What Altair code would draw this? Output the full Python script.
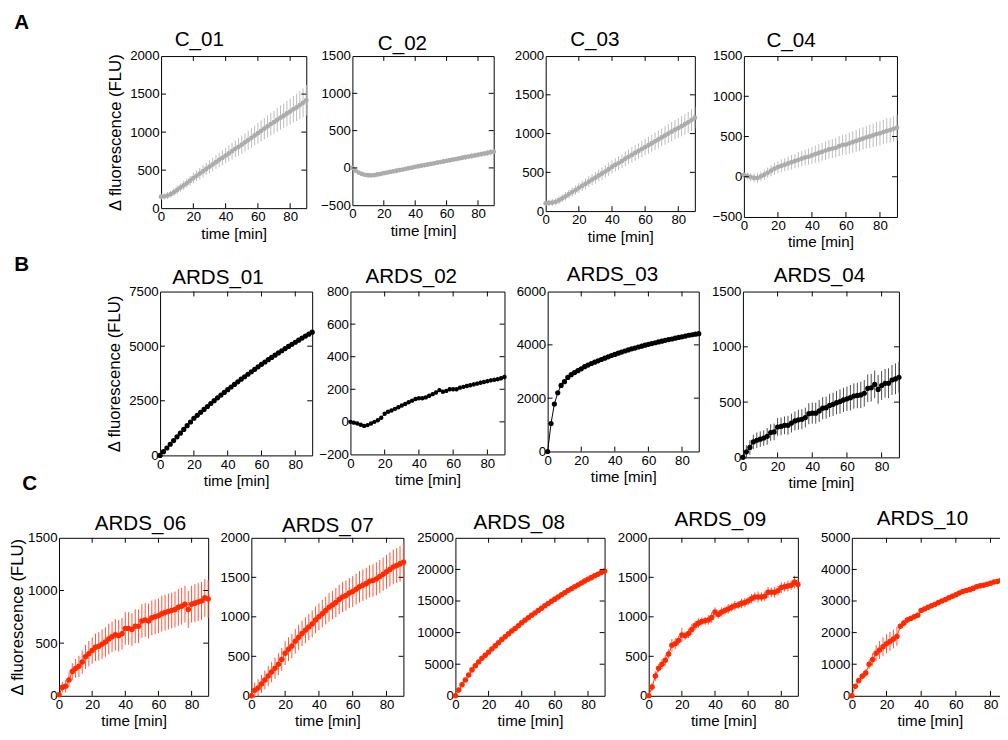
import altair as alt
import pandas as pd

TIME = [0, 2, 4, 6, 8, 10, 12, 14, 16, 18, 20, 22, 24, 26, 28, 30, 32, 34, 36, 38, 40,
        42, 44, 46, 48, 50, 52, 54, 56, 58, 60, 62, 64, 66, 68, 70, 72, 74, 76, 78, 80,
        82, 84, 86, 88, 90]
X_TICKS = [0, 20, 40, 60, 80]
X_TITLE = "time [min]"
Y_TITLE = "Δ fluorescence (FLU)"

C_01 = [150, 155, 165, 185, 210, 240, 270, 300, 330, 360, 395, 425, 455, 485, 515, 545,
        575, 605, 635, 660, 690, 720, 750, 780, 805, 835, 865, 895, 925, 955, 985, 1015,
        1045, 1075, 1105, 1130, 1160, 1190, 1215, 1245, 1270, 1300, 1325, 1355, 1385, 1420]
C_01_ERR = [40, 40, 45, 45, 50, 55, 55, 60, 60, 65, 70, 70, 75, 80, 80, 85, 90, 90, 95, 100,
            100, 105, 110, 110, 115, 120, 120, 125, 130, 130, 135, 140, 140, 145, 150, 150,
            155, 160, 160, 165, 170, 175, 180, 185, 190, 200]
C_02 = [0, -35, -62, -80, -92, -98, -100, -96, -88, -80, -70, -62, -54, -46, -38, -30, -22,
        -12, -4, 5, 14, 22, 30, 38, 46, 54, 62, 70, 78, 86, 95, 103, 111, 119, 127, 136, 144,
        152, 160, 168, 176, 184, 192, 200, 210, 218]
C_02_ERR = [10, 15, 15, 20, 20, 20, 20, 20, 20, 20, 20, 25, 20, 25, 25, 20, 25, 25, 25, 25,
            25, 25, 25, 30, 25, 25, 30, 30, 25, 30, 30, 30, 30, 30, 30, 30, 35, 30, 35, 35,
            35, 35, 35, 35, 40, 40]
C_03 = [100, 105, 110, 120, 140, 165, 190, 220, 245, 270, 300, 325, 350, 380, 405, 430, 460,
        485, 510, 540, 570, 595, 620, 645, 675, 700, 725, 750, 775, 800, 825, 850, 875, 900,
        925, 950, 975, 1000, 1025, 1050, 1070, 1095, 1120, 1145, 1175, 1205]
C_03_ERR = [40, 40, 45, 45, 50, 50, 55, 55, 60, 60, 65, 65, 70, 70, 70, 75, 75, 80, 80, 85,
            85, 85, 90, 90, 95, 95, 100, 100, 100, 105, 105, 110, 110, 115, 115, 115, 120,
            120, 125, 125, 130, 130, 135, 135, 140, 140]
C_04 = [20, 10, -5, -15, -15, 5, 25, 50, 75, 100, 120, 135, 150, 165, 180, 195, 210, 225, 240,
        250, 265, 280, 295, 310, 325, 340, 350, 360, 380, 395, 400, 415, 430, 445, 460, 475,
        490, 500, 515, 530, 540, 555, 570, 580, 595, 610]
C_04_ERR = [40, 45, 50, 55, 60, 60, 65, 65, 70, 75, 75, 80, 80, 85, 90, 90, 95, 95, 100, 100,
            105, 105, 110, 110, 115, 115, 120, 120, 125, 125, 130, 130, 135, 135, 140, 140,
            140, 145, 145, 150, 150, 150, 155, 155, 160, 160]

ARDS_01 = [0, 170, 340, 510, 680, 850, 1020, 1190, 1360, 1530, 1700, 1835, 1970, 2105, 2240,
           2375, 2505, 2635, 2760, 2885, 3010, 3130, 3250, 3370, 3490, 3600, 3715, 3830, 3940,
           4055, 4170, 4275, 4380, 4485, 4590, 4690, 4790, 4890, 4990, 5085, 5180, 5275, 5370,
           5460, 5550, 5640]
ARDS_01_ERR = [0, 10, 15, 15, 20, 20, 20, 25, 25, 25, 30, 30, 30, 30, 35, 35, 35, 35, 40, 40,
               40, 40, 40, 45, 45, 45, 45, 50, 50, 50, 50, 50, 55, 55, 55, 55, 60, 60, 60, 60,
               60, 65, 65, 65, 65, 70]
ARDS_02 = [0, -5, -10, -18, -25, -20, -10, 0, 10, 25, 50, 62, 70, 80, 90, 100, 110, 120, 130,
           140, 145, 145, 150, 160, 170, 180, 195, 185, 190, 200, 200, 200, 210, 215, 220, 225,
           230, 235, 240, 245, 250, 255, 258, 262, 268, 275]
ARDS_02_ERR = [0, 5, 5, 6, 6, 6, 7, 7, 7, 8, 8, 8, 8, 9, 9, 9, 9, 10, 10, 10, 10, 10, 10, 11,
               11, 11, 11, 11, 12, 12, 12, 12, 12, 12, 13, 13, 13, 13, 13, 13, 14, 14, 14, 14,
               14, 15]
ARDS_03 = [0, 1050, 1780, 2200, 2480, 2620, 2780, 2880, 2960, 3030, 3100, 3180, 3240, 3300,
           3350, 3400, 3450, 3500, 3550, 3600, 3640, 3690, 3730, 3770, 3810, 3850, 3880, 3920,
           3950, 3990, 4020, 4050, 4080, 4110, 4140, 4170, 4200, 4220, 4250, 4280, 4300, 4330,
           4360, 4380, 4400, 4420]
ARDS_03_ERR = [0, 40, 50, 50, 50, 50, 50, 50, 50, 50, 50, 50, 50, 50, 50, 50, 50, 50, 50, 50,
               50, 50, 50, 50, 50, 50, 50, 50, 50, 50, 50, 50, 50, 50, 50, 50, 50, 50, 50, 50,
               50, 50, 50, 50, 50, 50]
ARDS_04 = [0, 50, 90, 140, 155, 165, 175, 190, 225, 230, 275, 280, 290, 290, 310, 330, 340,
           345, 360, 395, 400, 400, 420, 445, 450, 470, 480, 495, 505, 520, 530, 540, 555, 560,
           565, 580, 625, 630, 660, 615, 650, 670, 670, 700, 710, 725]
ARDS_04_ERR = [20, 60, 65, 65, 70, 70, 70, 75, 75, 75, 80, 80, 80, 85, 85, 85, 90, 90, 90, 95,
               95, 95, 100, 100, 100, 105, 105, 105, 110, 110, 110, 115, 115, 115, 120, 120,
               125, 125, 125, 130, 130, 130, 135, 135, 140, 140]

ARDS_06 = [10, 80, 90, 150, 230, 260, 280, 320, 370, 400, 430, 460, 470, 490, 510, 540, 560,
           580, 570, 590, 640, 640, 630, 660, 660, 710, 720, 710, 740, 750, 760, 780, 790, 800,
           810, 820, 840, 850, 870, 820, 870, 880, 890, 900, 930, 920]
ARDS_06_ERR = [10, 50, 60, 70, 80, 90, 100, 110, 115, 120, 125, 130, 135, 140, 140, 145, 145,
               150, 150, 150, 155, 155, 155, 160, 160, 160, 160, 165, 165, 165, 165, 170, 170,
               170, 170, 170, 175, 175, 175, 175, 175, 180, 180, 180, 180, 180]
ARDS_07 = [0, 70, 100, 150, 200, 250, 300, 350, 400, 460, 540, 590, 630, 690, 740, 790, 830,
           870, 910, 960, 1000, 1040, 1080, 1120, 1150, 1180, 1220, 1250, 1270, 1300, 1320,
           1350, 1380, 1400, 1420, 1450, 1460, 1480, 1510, 1540, 1570, 1600, 1630, 1650, 1670,
           1690]
ARDS_07_ERR = [30, 100, 110, 115, 120, 125, 130, 135, 140, 145, 150, 150, 155, 155, 160, 160,
               165, 165, 170, 170, 170, 175, 175, 180, 180, 185, 185, 190, 190, 190, 195, 195,
               200, 200, 200, 205, 205, 210, 210, 210, 215, 215, 220, 220, 225, 230]
ARDS_08 = [0, 900, 1750, 2500, 3300, 4100, 4750, 5350, 5950, 6400, 6900, 7400, 7900, 8400,
           8900, 9350, 9800, 10250, 10650, 11100, 11550, 11950, 12350, 12750, 13100, 13500,
           13850, 14250, 14600, 14950, 15300, 15650, 16000, 16300, 16650, 16950, 17250, 17550,
           17850, 18150, 18450, 18700, 19000, 19250, 19500, 19750]
ARDS_08_ERR = [0, 100, 120, 140, 150, 160, 170, 180, 190, 200, 200, 210, 210, 220, 220, 230,
               230, 240, 240, 250, 250, 250, 260, 260, 260, 270, 270, 270, 280, 280, 280, 290,
               290, 290, 300, 300, 300, 300, 310, 310, 310, 310, 320, 320, 320, 320]
ARDS_09 = [0, 110, 250, 350, 400, 450, 530, 640, 660, 700, 770, 760, 790, 840, 890, 920, 940,
           950, 960, 990, 1060, 1030, 1060, 1080, 1100, 1120, 1140, 1150, 1170, 1180, 1200,
           1230, 1250, 1250, 1250, 1260, 1310, 1310, 1310, 1330, 1370, 1380, 1390, 1400, 1440,
           1410]
ARDS_09_ERR = [10, 50, 60, 50, 60, 70, 60, 80, 70, 60, 90, 50, 60, 70, 60, 60, 50, 50, 60, 70,
               60, 50, 60, 50, 60, 50, 60, 50, 60, 60, 50, 60, 60, 70, 60, 60, 70, 60, 70, 60,
               70, 60, 70, 60, 80, 60]
ARDS_10 = [0, 300, 480, 620, 720, 1000, 1150, 1350, 1450, 1550, 1650, 1720, 1800, 1880, 2200,
           2300, 2400, 2450, 2500, 2550, 2700, 2750, 2800, 2850, 2900, 2950, 3000, 3050, 3100,
           3150, 3200, 3250, 3300, 3330, 3360, 3400, 3450, 3480, 3500, 3530, 3560, 3600, 3620,
           3650, 3680, 3700]
ARDS_10_ERR = [10, 60, 80, 100, 120, 150, 200, 250, 280, 300, 300, 300, 300, 300, 80, 100,
               100, 80, 80, 80, 60, 60, 60, 60, 60, 60, 60, 60, 60, 60, 60, 60, 60, 60, 60, 60,
               60, 60, 60, 60, 60, 60, 60, 60, 60, 60]

FONT = "Liberation Sans"
GRAY, GRAY_E = "#acacac", "#bcbcbc"
BLACK, BLACK_E = "#000000", "#4a4a4a"
RED, RED_E = "#ff2a00", "#ff5236"

AX_STYLE = dict(labelFont=FONT, labelFontSize=13.5, labelColor="black", labelPadding=2,
                titleFont=FONT, titleFontWeight="normal", titleColor="black",
                labelOverlap=False, domain=False, ticks=False, grid=False)


def panel(name, vals, errs, ydom, yticks, color, ecolor, w, h, left, tx, ty, msize,
          ytitle=False, ytitle_pad=5, vspace=None, lw=1):
    df = pd.DataFrame({
        "t": TIME, "v": vals,
        "lo": [v - e for v, e in zip(vals, errs)],
        "hi": [v + e for v, e in zip(vals, errs)],
    })
    xs = alt.Scale(domain=[0, 90], nice=False, zero=False)
    ys = alt.Scale(domain=ydom, nice=False, zero=False)
    xax = alt.Axis(values=X_TICKS, title=X_TITLE, labelFlush=False, titleFontSize=15.5,
                   titlePadding=3, **AX_STYLE)
    if ytitle:
        yax = alt.Axis(values=yticks, title=Y_TITLE, titlePadding=ytitle_pad,
                       titleFontSize=17, format="d", **AX_STYLE)
    else:
        yax = alt.Axis(values=yticks, title="", format="d", **AX_STYLE)

    def X(f):
        return alt.X(f, type="quantitative", scale=xs, axis=xax)

    def Y(f):
        return alt.Y(f, type="quantitative", scale=ys, axis=yax)

    base = alt.Chart(df)
    err = base.mark_rule(color=ecolor, strokeWidth=1).encode(x=X("t"), y=Y("lo"), y2="hi:Q")
    line = base.mark_line(color=color, strokeWidth=lw).encode(x=X("t"), y=Y("v"))
    pts = base.mark_circle(color=color, size=msize, opacity=1).encode(x=X("t"), y=Y("v"))

    xt = alt.Chart(pd.DataFrame({"t": X_TICKS[1:]}))
    yt = alt.Chart(pd.DataFrame({"v": yticks[1:-1]}))
    tk = dict(color="black", strokeWidth=1)
    t_top = xt.mark_rule(**tk).encode(x=X("t"), y=alt.value(0), y2=alt.value(5))
    t_bot = xt.mark_rule(**tk).encode(x=X("t"), y=alt.value(h), y2=alt.value(h - 5))
    t_left = yt.mark_rule(**tk).encode(y=Y("v"), x=alt.value(0), x2=alt.value(5))
    t_right = yt.mark_rule(**tk).encode(y=Y("v"), x=alt.value(w), x2=alt.value(w - 5))

    one = alt.Chart(pd.DataFrame({"s": [name]}))
    title = one.mark_text(font=FONT, fontSize=21, align="center", baseline="alphabetic",
                          color="black").encode(x=alt.value(tx), y=alt.value(ty), text="s:N")
    space_h = one.mark_rule(color="white", strokeOpacity=0).encode(
        x=alt.value(-left), x2=alt.value(w + 4), y=alt.value(h / 2))
    layers = [err, line, pts, t_top, t_bot, t_left, t_right, title, space_h]
    if vspace is not None:
        layers.append(one.mark_rule(color="white", strokeOpacity=0).encode(
            x=alt.value(w / 2), y=alt.value(-vspace[0]), y2=alt.value(vspace[1])))
    return alt.layer(*layers).properties(width=w, height=h)


def spacer(w, h, vspace, letters):
    one = alt.Chart(pd.DataFrame({"s": ["x"]}))
    layers = [one.mark_rule(color="white", strokeOpacity=0).encode(
        x=alt.value(w / 2), y=alt.value(-vspace[0]), y2=alt.value(vspace[1]))]
    for s, px, py in letters:
        layers.append(alt.Chart(pd.DataFrame({"s": [s]})).mark_text(
            font=FONT, fontSize=21, fontWeight="bold", align="center", baseline="middle",
            color="black").encode(x=alt.value(px), y=alt.value(py), text="s:N"))
    return alt.layer(*layers).properties(
        width=w, height=h, view=alt.ViewBackground(stroke="transparent", fill="transparent"))


YA = [0, 500, 1000, 1500, 2000]
YB = [-500, 0, 500, 1000, 1500]

row_a = alt.hconcat(
    spacer(46, 155, (44, 200), [("A", -38, -34)]),
    panel("C_01", C_01, C_01_ERR, [0, 2000], YA, GRAY, GRAY_E, 148, 155, 56, 39, -10, 24,
          ytitle=True, lw=1.5),
    panel("C_02", C_02, C_02_ERR, [-500, 1500], YB, GRAY, GRAY_E, 144, 152, 41, 51, -6, 24,
          lw=1.5),
    panel("C_03", C_03, C_03_ERR, [0, 2000], YA, GRAY, GRAY_E, 152, 158, 47, 50, -10, 24,
          lw=1.5),
    panel("C_04", C_04, C_04_ERR, [-500, 1500], YB, GRAY, GRAY_E, 156, 164, 44, 48, -9, 24,
          lw=1.5),
    spacing=0,
)
row_b = alt.hconcat(
    spacer(45, 167, (38, 205), [("B", -38, -27), ("C", -30, 196)]),
    panel("ARDS_01", ARDS_01, ARDS_01_ERR, [0, 7500], [0, 2500, 5000, 7500], BLACK, BLACK_E,
          155, 167, 56, 59, -8, 28, ytitle=True),
    panel("ARDS_02", ARDS_02, ARDS_02_ERR, [-200, 800], [-200, 0, 200, 400, 600, 800],
          BLACK, BLACK_E, 157, 166, 33, 62, -9, 20),
    panel("ARDS_03", ARDS_03, ARDS_03_ERR, [0, 6000], [0, 2000, 4000, 6000], BLACK, BLACK_E,
          154, 163, 38, 66, -11, 28),
    panel("ARDS_04", ARDS_04, ARDS_04_ERR, [0, 1500], [0, 500, 1000, 1500], BLACK, BLACK_E,
          159, 169, 39, 78, -10, 28),
    spacing=0,
)
row_c = alt.hconcat(
    panel("ARDS_06", ARDS_06, ARDS_06_ERR, [0, 1500], [0, 500, 1000, 1500], RED, RED_E,
          152, 161, 50, 83, -8, 32, ytitle=True, ytitle_pad=1, vspace=(43, 0)),
    panel("ARDS_07", ARDS_07, ARDS_07_ERR, [0, 2000], YA, RED, RED_E, 155, 161, 38, 78, -6, 32),
    panel("ARDS_08", ARDS_08, ARDS_08_ERR, [0, 25000], [0, 5000, 10000, 15000, 20000, 25000],
          RED, RED_E, 152, 161, 47, 65, -9, 32),
    panel("ARDS_09", ARDS_09, ARDS_09_ERR, [0, 2000], YA, RED, RED_E, 152, 161, 39, 73, -12, 32),
    panel("ARDS_10", ARDS_10, ARDS_10_ERR, [0, 5000], [0, 1000, 2000, 3000, 4000, 5000],
          RED, RED_E, 159, 161, 49, 72, -13, 32),
    spacing=0,
)

chart = alt.vconcat(row_a, row_b, row_c, spacing=0).properties(
    padding={"left": 0, "top": -4, "right": -13, "bottom": 0}
).configure_view(
    stroke="black", strokeWidth=1
)

chart.save("out.html", embed_options={"renderer": "svg", "actions": False})
